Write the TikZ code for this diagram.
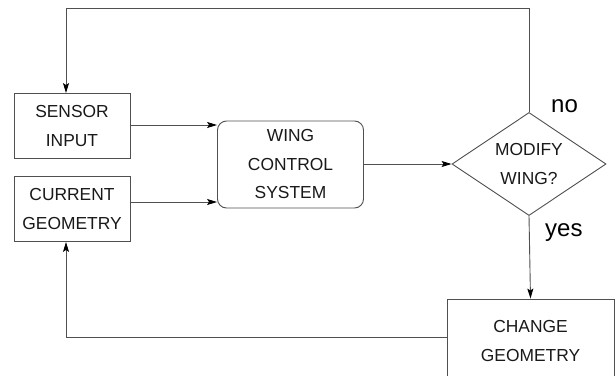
\documentclass[tikz,border=0pt]{standalone}
\usepackage{fontspec}
\setmainfont{Liberation Sans}
\usetikzlibrary{shapes.geometric,arrows.meta}
\definecolor{linec}{RGB}{80,80,80}
\tikzset{
  boxtext/.style={font=\fontsize{17.4}{28.5}\selectfont, align=center, text=black!90},
  blk/.style={boxtext, draw=linec, line width=0.9pt, inner sep=0pt},
  conn/.style={draw=linec, line width=0.9pt, -{Stealth[length=10pt,width=6pt,inset=2pt,black]}},
  plain/.style={draw=linec, line width=0.9pt},
  lbl/.style={font=\fontsize{24}{28}\selectfont, text=black, inner sep=0pt}
}
\begin{document}
\begin{tikzpicture}[x=1pt,y=-1pt]
\useasboundingbox (0,0) rectangle (615,375);
\node[blk, minimum width=116pt, minimum height=65pt] (sensor) at (72,126) {SENSOR\\INPUT};
\node[blk, minimum width=116pt, minimum height=65pt] (current) at (72,209) {CURRENT\\GEOMETRY};
\node[blk, rounded corners=9pt, minimum width=146pt, minimum height=87pt] (wcs) at (290.5,164.5) {WING\\CONTROL\\SYSTEM};
\node[blk, diamond, aspect=1.5, minimum width=154pt, minimum height=103pt] (dec) at (529,164) {MODIFY\\WING?};
\node[blk, minimum width=167pt, minimum height=84pt] (change) at (530.5,341) {CHANGE\\GEOMETRY};
\coordinate (tl) at (66,8);
\coordinate (tr) at (529,8);
\coordinate (bl) at (66,337);
\draw[conn] (sensor.east |- 0,125) -- (wcs.west |- 0,125);
\draw[conn] (current.east |- 0,202) -- (wcs.west |- 0,202);
\draw[conn] (wcs.east |- dec.west) -- (dec.west);
\draw[conn] (dec.north) -- (tr) -- (tl) -- (tl |- sensor.north);
\draw[conn] (dec.south) -- (change.north);
\draw[conn] (change.west |- bl) -- (bl) -- (bl |- current.south);
\node[lbl, anchor=base west] (no) at (551,112) {no};
\node[lbl, anchor=base west] (yes) at (545,236) {yes};
\end{tikzpicture}
\end{document}
